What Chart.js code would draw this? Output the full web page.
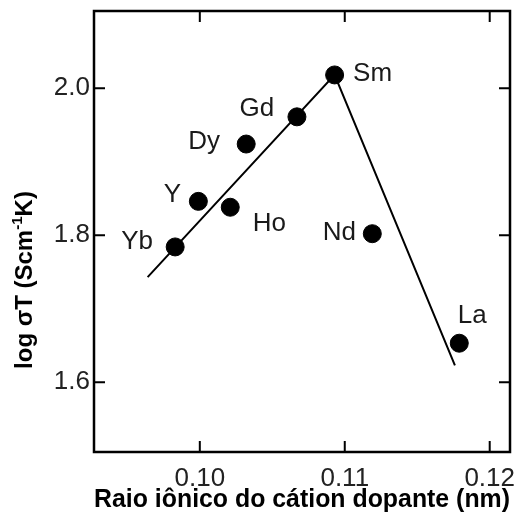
<!DOCTYPE html>
<html>
<head>
<meta charset="utf-8">
<script src="https://cdn.jsdelivr.net/npm/chart.js@4.4.0/dist/chart.umd.min.js"></script>
<style>
  html, body { margin: 0; padding: 0; background: #fff; }
  #wrap { width: 515px; height: 531px; }
</style>
</head>
<body>
<div id="wrap"><canvas id="grafico" width="515" height="531"></canvas></div>
<script>
// pontos medidos (dopantes)
const dopantes = ['Yb', 'Y', 'Ho', 'Dy', 'Gd', 'Sm', 'Nd', 'La'];
const raio = [0.0983, 0.0999, 0.1021, 0.1032, 0.1067, 0.1093, 0.1119, 0.1179];
const logSigmaT = [1.784, 1.846, 1.838, 1.924, 1.961, 2.018, 1.802, 1.653];

// retas tracadas a mao
const retaX = [0.0964, 0.1093, 0.1176];
const retaY = [1.743, 2.018, 1.623];

const ticksX = [0.10, 0.11, 0.12];
const ticksY = [1.6, 1.8, 2.0];

// deslocamento dos rotulos em px (so estilo)
const offsetRotulos = [[-38, -5], [-26, -7], [39, 17], [-42, -2], [-40, -8], [38, -1], [-33, -1], [13, -27]];

const fonteTexto = '"Liberation Sans", Arial, sans-serif';

//Inizio plugins
const moldura = {
    id: 'moldura',
    afterDraw(chart) {
        const ctx = chart.ctx;
        const a = chart.chartArea;
        const sx = chart.scales.x;
        const sy = chart.scales.y;
        const tl = 11;
        ctx.save();
        ctx.strokeStyle = '#000';
        ctx.lineWidth = 2.5;
        ctx.strokeRect(a.left, a.top, a.right - a.left, a.bottom - a.top);
        ctx.lineWidth = 2;
        ctx.beginPath();
        ticksX.forEach(v => {
            const px = sx.getPixelForValue(v);
            ctx.moveTo(px, a.bottom); ctx.lineTo(px, a.bottom - tl);
            ctx.moveTo(px, a.top); ctx.lineTo(px, a.top + tl);
        });
        ticksY.forEach(v => {
            const py = sy.getPixelForValue(v);
            ctx.moveTo(a.left, py); ctx.lineTo(a.left + tl, py);
            ctx.moveTo(a.right, py); ctx.lineTo(a.right - tl, py);
        });
        ctx.stroke();

        // titulo do eixo y com expoente
        ctx.translate(25, 280);
        ctx.rotate(-Math.PI / 2);
        ctx.fillStyle = '#000';
        ctx.textBaseline = 'middle';
        const f1 = 'bold 24px ' + fonteTexto;
        const f2 = 'bold 15px ' + fonteTexto;
        const p1 = 'log \u03c3T (Scm', p2 = '-1', p3 = 'K)';
        ctx.font = f1;
        const w1 = ctx.measureText(p1).width, w3 = ctx.measureText(p3).width;
        ctx.font = f2;
        const w2 = ctx.measureText(p2).width;
        let x0 = -(w1 + w2 + w3) / 2;
        ctx.font = f1; ctx.textAlign = 'left';
        ctx.fillText(p1, x0, 0);
        ctx.font = f2;
        ctx.fillText(p2, x0 + w1, -7);
        ctx.font = f1;
        ctx.fillText(p3, x0 + w1 + w2, 0);
        ctx.restore();
    }
};

const rotulos = {
    id: 'rotulos',
    afterDatasetsDraw(chart) {
        const ctx = chart.ctx;
        const meta = chart.getDatasetMeta(0);
        ctx.save();
        ctx.font = '26px ' + fonteTexto;
        ctx.fillStyle = '#1a1a1a';
        ctx.textAlign = 'center';
        ctx.textBaseline = 'middle';
        meta.data.forEach((pt, i) => {
            ctx.fillText(dopantes[i], pt.x + offsetRotulos[i][0], pt.y + offsetRotulos[i][1]);
        });
        ctx.restore();
    }
};
//fine plugins

const grafico = document.querySelector('#grafico');
new Chart(grafico, {
    type: 'scatter',
    data: {
        datasets: [
            {
                label: 'dopantes',
                data: raio.map((r, i) => ({ x: r, y: logSigmaT[i] })),
                backgroundColor: '#000',
                borderColor: '#000',
                pointRadius: 9,
                pointHoverRadius: 9
            },
            {
                label: 'reta',
                data: retaX.map((r, i) => ({ x: r, y: retaY[i] })),
                showLine: true,
                borderColor: '#000',
                borderWidth: 2,
                pointRadius: 0,
                fill: false
            }
        ]
    },
    options: {
        responsive: false,
        animation: false,
        events: [],
        layout: { autoPadding: false, padding: { top: 11, right: 5, left: 0, bottom: 0 } },
        plugins: {
            legend: { display: false },
            tooltip: { enabled: false }
        },
        scales: {
            x: {
                type: 'linear',
                min: 0.0927,
                max: 0.1214,
                afterBuildTicks: s => { s.ticks = ticksX.map(v => ({ value: v })); },
                afterFit: s => { s.height = 79; s.paddingLeft = 0; s.paddingRight = 0; },
                grid: { display: false, drawTicks: false },
                border: { display: false },
                ticks: {
                    padding: 11,
                    color: '#222',
                    font: { family: fonteTexto, size: 26 },
                    callback: v => v.toFixed(2)
                },
                title: {
                    display: true,
                    text: 'Raio iônico do cátion dopante (nm)',
                    color: '#000',
                    font: { family: fonteTexto, size: 25, weight: 'bold' },
                    padding: { top: 0, bottom: 16 }
                }
            },
            y: {
                type: 'linear',
                min: 1.505,
                max: 2.105,
                afterBuildTicks: s => { s.ticks = ticksY.map(v => ({ value: v })); },
                afterFit: s => { s.width = 94; s.paddingTop = 0; s.paddingBottom = 0; },
                grid: { display: false, drawTicks: false },
                border: { display: false },
                ticks: {
                    padding: 4,
                    color: '#222',
                    font: { family: fonteTexto, size: 26 },
                    callback: v => v.toFixed(1)
                }
            }
        }
    },
    plugins: [moldura, rotulos]
});
</script>
</body>
</html>
